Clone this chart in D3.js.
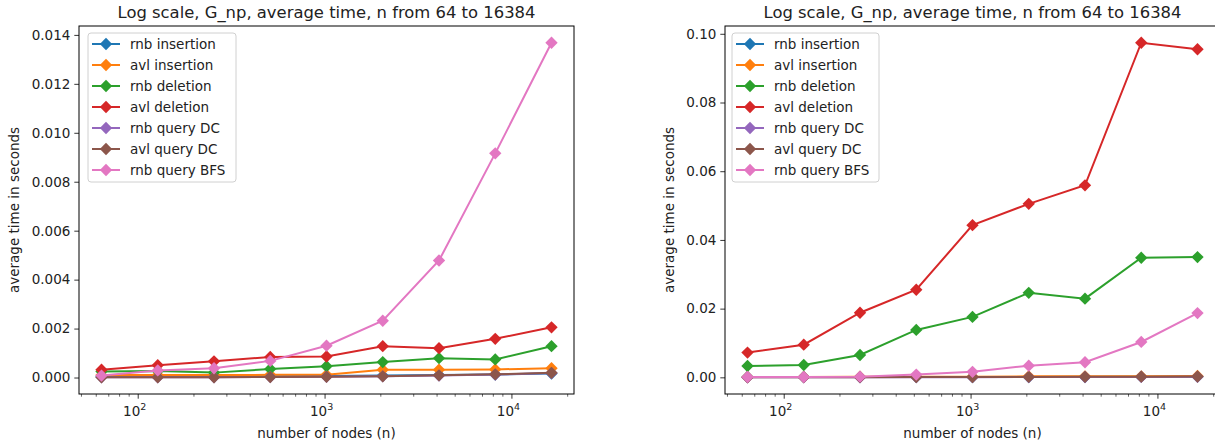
<!DOCTYPE html>
<html>
<head>
<meta charset="utf-8">
<script src="https://cdn.jsdelivr.net/npm/d3@7"></script>
<style>
  body { margin: 0; background: #fff; }
  svg text { font-family: "DejaVu Sans", sans-serif; fill: #222; }
</style>
</head>
<body>
<div id="chart"></div>
<script>
// data
const nodes = [64, 128, 256, 512, 1024, 2048, 4096, 8192, 16384];
const seriesNames = ["rnb insertion", "avl insertion", "rnb deletion", "avl deletion",
                     "rnb query DC", "avl query DC", "rnb query BFS"];
const colors = ["#1f77b4", "#ff7f0e", "#2ca02c", "#d62728", "#9467bd", "#8c564b", "#e377c2"];

// left panel
const rnbInsertionL = [0.00004, 0.00004, 0.00004, 0.00005, 0.00006, 0.00008, 0.00010, 0.00012, 0.00016];
const avlInsertionL = [0.00010, 0.00010, 0.00010, 0.00011, 0.00011, 0.00032, 0.00032, 0.00033, 0.00038];
const rnbDeletionL  = [0.00025, 0.00027, 0.00020, 0.00035, 0.00046, 0.00063, 0.00079, 0.00074, 0.00128];
const avlDeletionL  = [0.00032, 0.00050, 0.00066, 0.00084, 0.00086, 0.00128, 0.00120, 0.00158, 0.00205];
const rnbQueryDCL   = [0.00001, 0.00001, 0.00001, 0.00002, 0.00003, 0.00005, 0.00008, 0.00012, 0.00018];
const avlQueryDCL   = [0.00001, 0.00001, 0.00001, 0.00002, 0.00003, 0.00005, 0.00009, 0.00013, 0.00019];
const rnbQueryBFSL  = [0.00008, 0.00029, 0.00038, 0.00068, 0.00130, 0.00232, 0.00478, 0.00916, 0.01368];

// right panel
const rnbInsertionR = [0.0001, 0.0001, 0.0001, 0.0001, 0.0001, 0.0001, 0.0001, 0.0002, 0.0002];
const avlInsertionR = [0.0001, 0.0001, 0.0002, 0.0002, 0.0002, 0.0003, 0.0003, 0.0003, 0.0004];
const rnbDeletionR  = [0.0033, 0.0036, 0.0065, 0.0138, 0.0176, 0.0246, 0.0229, 0.0348, 0.0350];
const avlDeletionR  = [0.0072, 0.0095, 0.0188, 0.0255, 0.0443, 0.0505, 0.0559, 0.0974, 0.0955];
const rnbQueryDCR   = [0.00002, 0.00002, 0.00003, 0.00005, 0.00006, 0.00008, 0.0001, 0.00012, 0.00015];
const avlQueryDCR   = [0.00003, 0.00004, 0.00006, 0.0001, 0.0001, 0.00013, 0.00015, 0.0002, 0.00025];
const rnbQueryBFSR  = [0.0001, 0.0001, 0.0002, 0.0008, 0.0016, 0.0034, 0.0044, 0.0103, 0.0187];

const leftTicks = [0.000, 0.002, 0.004, 0.006, 0.008, 0.010, 0.012, 0.014];
const rightTicks = [0.00, 0.02, 0.04, 0.06, 0.08, 0.10];
const xMajor = [100, 1000, 10000];

const titleText = "Log scale, G_np, average time, n from 64 to 16384";

const svg = d3.select("#chart").append("svg")
    .attr("width", 1215)
    .attr("height", 447);

function drawPanel(cfg, values, yTicks, yFmt) {
    const g = svg.append("g").attr("transform", `translate(${cfg.left},${cfg.top})`);
    const w = cfg.width, h = cfg.height;

    // matplotlib style 5% margins
    const lx = d3.extent(nodes).map(Math.log2);
    const padX = (lx[1] - lx[0]) * 0.05;
    const x = d3.scaleLog().domain([2 ** (lx[0] - padX), 2 ** (lx[1] + padX)]).range([0, w]);
    const all = values.flat();
    const ext = d3.extent(all);
    const padY = (ext[1] - ext[0]) * 0.05;
    const y = d3.scaleLinear().domain([ext[0] - padY, ext[1] + padY]).range([h, 0]);

    // minor ticks on log axis
    const dom = x.domain();
    const minor = [];
    for (let e = 1; e <= 4; e++) {
        for (let m = 2; m <= 9; m++) {
            const v = m * 10 ** e;
            if (v >= dom[0] && v <= dom[1]) minor.push(v);
        }
    }
    g.selectAll(".minor").data(minor).enter().append("line")
        .attr("x1", d => x(d)).attr("x2", d => x(d))
        .attr("y1", h).attr("y2", h + 2.7)
        .attr("stroke", "#000").attr("stroke-width", 0.6);

    const xAxis = g.append("g").attr("transform", `translate(0,${h})`)
        .call(d3.axisBottom(x).tickValues(xMajor).tickSize(4.7).tickPadding(4).tickFormat(""));
    xAxis.select(".domain").remove();
    xAxis.selectAll("line").attr("stroke", "#000").attr("stroke-width", 0.8);
    xMajor.forEach(v => {
        const t = g.append("text")
            .attr("x", x(v) - 3).attr("y", h + 22)
            .attr("text-anchor", "middle")
            .attr("font-size", 13.5);
        t.append("tspan").text("10");
        t.append("tspan").attr("font-size", 9.5).attr("dy", -6).text(Math.round(Math.log10(v)));
    });

    const yAxis = g.append("g")
        .call(d3.axisLeft(y).tickValues(yTicks).tickSize(4.7).tickPadding(4).tickFormat(yFmt));
    yAxis.select(".domain").remove();
    yAxis.selectAll("line").attr("stroke", "#000").attr("stroke-width", 0.8);
    yAxis.selectAll("text").attr("font-size", 13.5).attr("font-family", "DejaVu Sans").attr("fill", "#222");

    // lines and markers
    const line = d3.line().x((d, i) => x(nodes[i])).y(d => y(d));
    const diamond = d3.symbol().type(d3.symbolSquare).size(76);
    values.forEach((vals, s) => {
        const sg = g.append("g");
        sg.append("path").datum(vals)
            .attr("d", line)
            .attr("fill", "none")
            .attr("stroke", colors[s])
            .attr("stroke-width", 2);
        sg.selectAll("path.mk").data(vals).enter().append("path")
            .attr("class", "mk")
            .attr("d", diamond)
            .attr("transform", (d, i) => `translate(${x(nodes[i])},${y(d)}) rotate(45)`)
            .attr("fill", colors[s]);
    });

    // frame
    g.append("rect").attr("width", w).attr("height", h)
        .attr("fill", "none").attr("stroke", "#000").attr("stroke-width", 1);

    // title and labels
    g.append("text").attr("x", w / 2).attr("y", -8)
        .attr("text-anchor", "middle").attr("font-size", 16.4).text(titleText);
    g.append("text").attr("x", w / 2).attr("y", h + 44)
        .attr("text-anchor", "middle").attr("font-size", 13.5).text("number of nodes (n)");
    g.append("text")
        .attr("transform", `translate(${cfg.ylabelX},${h / 2}) rotate(-90)`)
        .attr("text-anchor", "middle").attr("font-size", 13.5).text("average time in seconds");

    // legend
    const lg = g.append("g").attr("transform", `translate(${cfg.legendX},7)`);
    lg.append("rect").attr("width", cfg.legendW).attr("height", 149).attr("rx", 3)
        .attr("fill", "#fff").attr("fill-opacity", 0.8)
        .attr("stroke", "#d0d0d0").attr("stroke-width", 1);
    seriesNames.forEach((name, s) => {
        const yy = 11 + s * 21;
        lg.append("line").attr("x1", 4).attr("x2", 32).attr("y1", yy).attr("y2", yy)
            .attr("stroke", colors[s]).attr("stroke-width", 2);
        lg.append("path").attr("d", diamond)
            .attr("transform", `translate(18,${yy}) rotate(45)`)
            .attr("fill", colors[s]);
        lg.append("text").attr("x", 42).attr("y", yy + 5)
            .attr("font-size", 13.5).text(name);
    });
}

drawPanel({left: 79, top: 26, width: 495, height: 368, ylabelX: -60, legendX: 9, legendW: 148},
    [rnbInsertionL, avlInsertionL, rnbDeletionL, avlDeletionL, rnbQueryDCL, avlQueryDCL, rnbQueryBFSL],
    leftTicks, d3.format(".3f"));

drawPanel({left: 725, top: 26, width: 495, height: 368, ylabelX: -51, legendX: 7, legendW: 147},
    [rnbInsertionR, avlInsertionR, rnbDeletionR, avlDeletionR, rnbQueryDCR, avlQueryDCR, rnbQueryBFSR],
    rightTicks, d3.format(".2f"));
</script>
</body>
</html>
